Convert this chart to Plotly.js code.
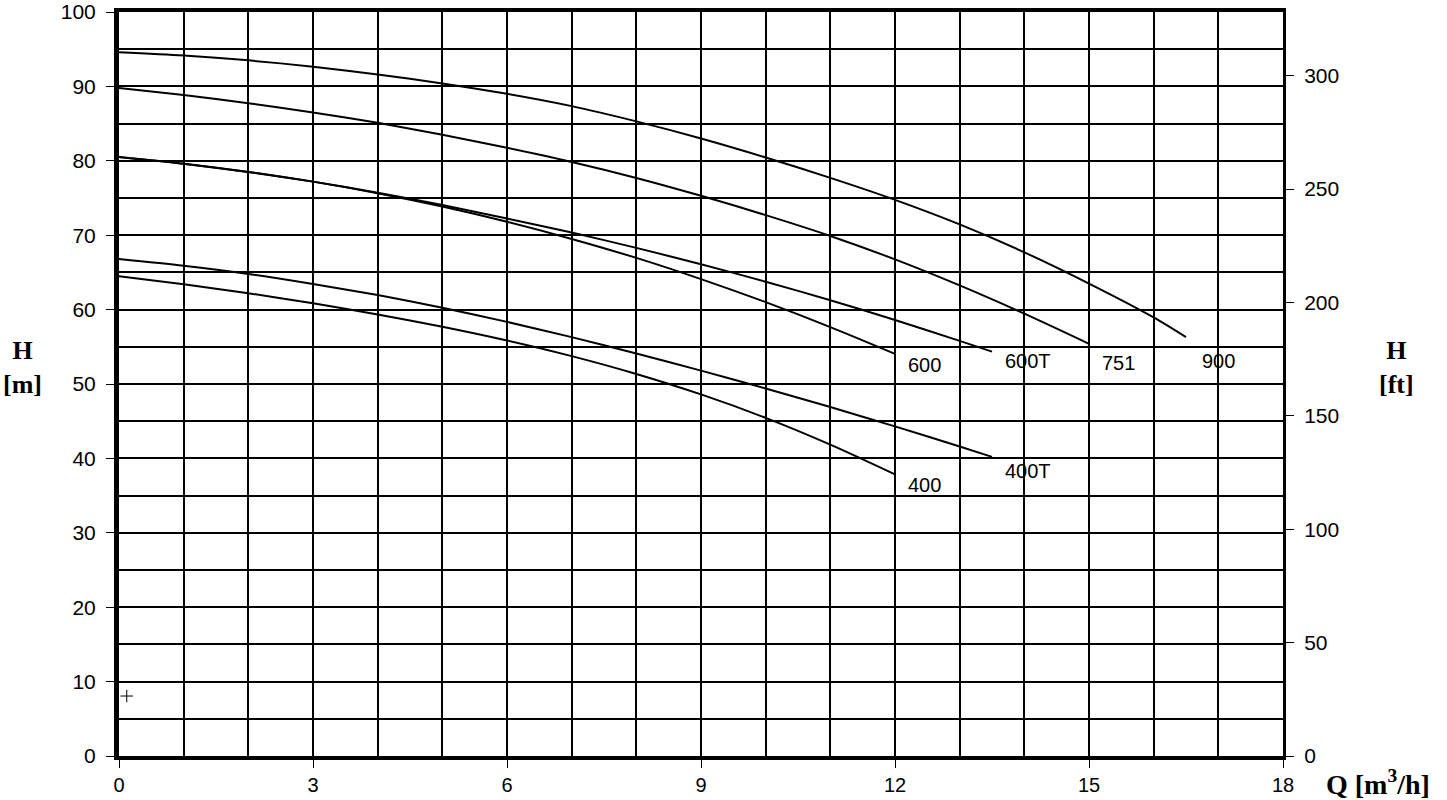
<!DOCTYPE html>
<html>
<head>
<meta charset="utf-8">
<script src="https://cdn.plot.ly/plotly-3.0.1.min.js"></script>
<style>html,body{margin:0;padding:0;background:#fff;}#chart{width:1447px;height:800px;}</style>
</head>
<body>
<div id="chart"></div>
<script>
// Flow Q [m3/h] and head H [m]
const q900 = [0,1,2,3,4,5,6,7,8,9,10,11,12,13,14,15,16,16.5];
const h900 = [94.6,94.15,93.5,92.65,91.6,90.4,89.0,87.35,85.3,83.0,80.45,77.7,74.75,71.45,67.7,63.5,58.95,56.3];
const q751 = [0,1,2,3,4,5,6,7,8,9,10,11,12,13,14,15];
const h751 = [89.8,88.85,87.75,86.5,85.1,83.5,81.75,79.85,77.7,75.3,72.7,69.9,66.75,63.25,59.45,55.4];
const q600T = [0,1,2,3,4,5,6,7,8,9,10,11,12,13,13.5];
const h600T = [80.5,79.6,78.5,77.2,75.7,74.05,72.25,70.35,68.3,66.1,63.75,61.25,58.6,55.8,54.35];
const q600 = [0,1,2,3,4,5,6,7,8,9,10,11,12];
const h600 = [80.5,79.6,78.5,77.2,75.65,73.85,71.8,69.5,66.95,64.1,61.0,57.65,54.05];
const q400T = [0,1,2,3,4,5,6,7,8,9,10,11,12,13,13.5];
const h400T = [66.8,65.9,64.8,63.45,61.95,60.25,58.35,56.3,54.1,51.8,49.4,46.9,44.3,41.6,40.2];
const q400 = [0,1,2,3,4,5,6,7,8,9,10,11,12];
const h400 = [64.5,63.4,62.2,60.85,59.35,57.7,55.85,53.75,51.35,48.6,45.45,41.85,37.85];

const curveNames = ['900','751','600T','600','400T','400'];
const curveQ = [q900,q751,q600T,q600,q400T,q400];
const curveH = [h900,h751,h600T,h600,h400T,h400];
// label positions (Q, H)
const labelQ = [17.0,15.45,14.05,12.45,14.05,12.45];
const labelH = [53.1,52.8,53.1,52.6,38.3,36.4];

const markQ = [0.12];
const markH = [8.06];

const M_TO_FT = 3.28084;

const traces = curveNames.map((n,i)=>({
  x: curveQ[i], y: curveH[i], name: n, type:'scatter', mode:'lines',
  line:{color:'#000', width:2, shape:'spline', smoothing:0.8},
  hoverinfo:'x+y+name'
}));
traces.push({x:markQ, y:markH, type:'scatter', mode:'markers',
  marker:{symbol:'cross-thin', size:9, line:{color:'#000', width:1}}, hoverinfo:'skip'});
traces.push({x:[0], y:[0], yaxis:'y2', type:'scatter', mode:'markers',
  marker:{opacity:0}, hoverinfo:'skip'});

const sans = 'Liberation Sans, Arial, sans-serif';
const serif = 'Liberation Serif, Times New Roman, serif';

const annotations = curveNames.map((n,i)=>({
  x: labelQ[i], y: labelH[i], xref:'x', yref:'y', text:n, showarrow:false,
  font:{family:sans, size:20, color:'#000'}
}));
annotations.push({xref:'paper', yref:'paper', x:-0.083, xanchor:'center', y:0.522, yanchor:'middle',
  text:'<b>H</b><br><b>[m]</b>',
  showarrow:false, align:'center', font:{family:serif, size:26, color:'#000'}});
annotations.push({xref:'paper', yref:'paper', x:1.0978, xanchor:'center', y:0.522, yanchor:'middle',
  text:'<b>H</b><br><b>[ft]</b>',
  showarrow:false, align:'center', font:{family:serif, size:26, color:'#000'}});
annotations.push({xref:'paper', yref:'paper', x:1.035, xanchor:'left', y:-0.036, yanchor:'middle',
  text:'<b>Q [m<sup>3</sup>/h]</b>', showarrow:false, font:{family:serif, size:28, color:'#000'}});

const layout = {
  width:1447, height:800,
  margin:{l:119, r:164, t:12, b:44},
  paper_bgcolor:'#fff', plot_bgcolor:'#fff',
  showlegend:false,
  xaxis:{range:[0,18], dtick:3, tick0:0, showgrid:true, gridcolor:'#000', gridwidth:2,
    minor:{dtick:1, showgrid:true, gridcolor:'#000', gridwidth:2},
    ticks:'outside', ticklen:8, tickwidth:1, tickcolor:'#000',
    showline:true, linecolor:'#000', linewidth:4, mirror:true, zeroline:false,
    tickfont:{family:sans, size:20, color:'#000'}},
  yaxis:{range:[0,100], dtick:10, tick0:0, showgrid:true, gridcolor:'#000', gridwidth:2,
    minor:{dtick:5, showgrid:true, gridcolor:'#000', gridwidth:2},
    ticks:'outside', ticklen:8, tickwidth:1, tickcolor:'#000',
    showline:true, linecolor:'#000', linewidth:5, zeroline:false,
    ticklabelstandoff:6,
    tickfont:{family:sans, size:21, color:'#000'}},
  yaxis2:{overlaying:'y', side:'right', range:[0,100*M_TO_FT], dtick:50, tick0:0,
    showgrid:false, zeroline:false,
    ticks:'outside', ticklen:8, tickwidth:1, tickcolor:'#000',
    showline:true, linecolor:'#000', linewidth:3,
    ticklabelstandoff:6,
    tickfont:{family:sans, size:21, color:'#000'}},
  annotations: annotations
};

Plotly.newPlot('chart', traces, layout, {displayModeBar:false, staticPlot:true});
</script>
</body>
</html>
